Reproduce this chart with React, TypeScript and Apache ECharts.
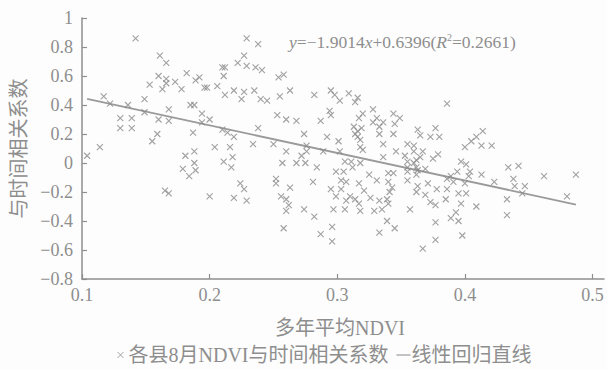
import React, { useEffect, useRef } from "react";
import * as echarts from "echarts";

// 多年平均NDVI (x) for each county
const ndvi = [
  0.142, 0.161, 0.166, 0.160, 0.166, 0.153, 0.163, 0.166, 0.173, 0.178,
  0.182, 0.189, 0.192, 0.196, 0.198, 0.206, 0.210, 0.212, 0.211, 0.222,
  0.227, 0.229, 0.229, 0.212, 0.219, 0.225, 0.227, 0.117, 0.122, 0.136,
  0.149, 0.149, 0.168, 0.185, 0.188, 0.194, 0.130, 0.139, 0.130, 0.139,
  0.160, 0.168, 0.194, 0.200, 0.159, 0.155, 0.187, 0.210, 0.214, 0.219,
  0.216, 0.204, 0.114, 0.104, 0.181, 0.188, 0.188, 0.179, 0.189, 0.184,
  0.211, 0.218, 0.217, 0.165, 0.168, 0.200, 0.219, 0.224, 0.227, 0.229,
  0.238, 0.236, 0.241, 0.254, 0.258, 0.235, 0.240, 0.245, 0.255, 0.263,
  0.282, 0.295, 0.298, 0.302, 0.309, 0.316, 0.314, 0.253, 0.260, 0.268,
  0.287, 0.294, 0.295, 0.320, 0.328, 0.331, 0.328, 0.336, 0.344, 0.349,
  0.345, 0.313, 0.316, 0.319, 0.317, 0.333, 0.238, 0.274, 0.292, 0.301,
  0.314, 0.316, 0.333, 0.344, 0.234, 0.250, 0.276, 0.318, 0.336, 0.355,
  0.360, 0.318, 0.276, 0.272, 0.260, 0.289, 0.302, 0.320, 0.336, 0.346,
  0.353, 0.360, 0.362, 0.257, 0.268, 0.275, 0.284, 0.306, 0.311, 0.312,
  0.318, 0.299, 0.305, 0.325, 0.331, 0.340, 0.344, 0.355, 0.363, 0.355,
  0.252, 0.252, 0.263, 0.281, 0.303, 0.307, 0.317, 0.340, 0.343, 0.295,
  0.303, 0.321, 0.341, 0.362, 0.256, 0.260, 0.262, 0.260, 0.274, 0.299,
  0.310, 0.307, 0.314, 0.317, 0.326, 0.333, 0.339, 0.340, 0.297, 0.306,
  0.318, 0.329, 0.335, 0.357, 0.282, 0.339, 0.345, 0.333, 0.258, 0.287,
  0.296, 0.296, 0.386, 0.363, 0.365, 0.373, 0.377, 0.380, 0.400, 0.405,
  0.409, 0.414, 0.413, 0.421, 0.367, 0.365, 0.379, 0.375, 0.397, 0.401,
  0.355, 0.360, 0.355, 0.362, 0.369, 0.394, 0.404, 0.403, 0.413, 0.362,
  0.389, 0.386, 0.391, 0.400, 0.434, 0.442, 0.423, 0.438, 0.462, 0.487,
  0.439, 0.447, 0.445, 0.433, 0.480, 0.363, 0.371, 0.378, 0.386, 0.395,
  0.401, 0.369, 0.385, 0.373, 0.377, 0.397, 0.409, 0.377, 0.389, 0.393,
  0.395, 0.377, 0.367, 0.398, 0.433
];

// 与时间相关系数 (y) for each county
const corr = [
  0.86, 0.74, 0.69, 0.60, 0.58, 0.54, 0.51, 0.55, 0.56, 0.51,
  0.62, 0.57, 0.59, 0.52, 0.52, 0.53, 0.66, 0.66, 0.60, 0.69,
  0.74, 0.86, 0.67, 0.47, 0.50, 0.44, 0.49, 0.46, 0.41, 0.40,
  0.44, 0.35, 0.37, 0.40, 0.40, 0.34, 0.31, 0.31, 0.24, 0.24,
  0.30, 0.29, 0.28, 0.30, 0.20, 0.15, 0.21, 0.23, 0.21, 0.18,
  0.11, 0.11, 0.11, 0.05, 0.05, 0.08, 0.00, -0.04, -0.05, -0.09,
  0.01, 0.04, -0.03, -0.19, -0.21, -0.23, -0.24, -0.14, -0.18, -0.26,
  0.82, 0.66, 0.64, 0.59, 0.61, 0.50, 0.44, 0.43, 0.46, 0.50,
  0.47, 0.50, 0.47, 0.43, 0.48, 0.45, 0.42, 0.33, 0.30, 0.29,
  0.29, 0.36, 0.33, 0.34, 0.37, 0.31, 0.28, 0.28, 0.34, 0.31,
  0.27, 0.25, 0.22, 0.24, 0.31, 0.25, 0.24, 0.20, 0.18, 0.15,
  0.20, 0.18, 0.20, 0.20, 0.13, 0.13, 0.12, 0.11, 0.13, 0.13,
  0.12, 0.16, 0.08, 0.05, 0.08, 0.08, 0.08, 0.09, 0.04, 0.08,
  0.05, 0.08, 0.02, 0.00, 0.00, 0.00, -0.03, 0.01, 0.01, -0.03,
  0.00, -0.06, -0.06, -0.08, -0.12, -0.07, -0.07, -0.06, -0.05, -0.12,
  -0.11, -0.14, -0.17, -0.13, -0.12, -0.13, -0.14, -0.13, -0.17, -0.18,
  -0.18, -0.19, -0.20, -0.20, -0.23, -0.25, -0.29, -0.33, -0.32, -0.23,
  -0.23, -0.26, -0.25, -0.28, -0.24, -0.26, -0.25, -0.28, -0.32, -0.32,
  -0.33, -0.33, -0.32, -0.32, -0.37, -0.40, -0.45, -0.48, -0.45, -0.49,
  -0.44, -0.54, 0.41, 0.23, 0.19, 0.18, 0.24, 0.18, 0.11, 0.15,
  0.18, 0.22, 0.12, 0.12, 0.08, 0.04, 0.06, 0.03, 0.01, -0.01,
  0.01, 0.00, -0.03, -0.03, -0.04, -0.06, -0.06, -0.09, -0.08, -0.08,
  -0.09, -0.11, -0.13, -0.14, -0.03, -0.02, -0.13, -0.11, -0.09, -0.08,
  -0.16, -0.16, -0.21, -0.25, -0.23, -0.16, -0.14, -0.18, -0.18, -0.21,
  -0.21, -0.22, -0.25, -0.27, -0.29, -0.28, -0.30, -0.41, -0.38, -0.34,
  -0.40, -0.53, -0.59, -0.50, -0.36
];

// regression: y = -1.9014x + 0.6396 (R^2 = 0.2661)
const slope = -1.9014;
const intercept = 0.6396;
const lineEnds = [0.104, 0.487];

const xTicks = [0.1, 0.2, 0.3, 0.4, 0.5];

const scatterName = "各县8月NDVI与时间相关系数";
const lineName = "线性回归直线";
const xName = "多年平均NDVI";
const yName = "与时间相关系数";

const GRAY = "#8e8e8e";
const FONT = "Liberation Serif, Times New Roman, DejaVu Serif, Noto Sans CJK SC, serif";
const CROSS = "path://M0,0L10,10M10,0L0,10";

export default function App() {
  const ref = useRef<HTMLDivElement>(null);
  useEffect(() => {
    if (!ref.current) return;
    const chart = echarts.init(ref.current, undefined, { renderer: "svg" });
    const fmtY = (v: number) => String(+v.toFixed(1)).replace("-", "−");
    chart.setOption({
      animation: false,
      backgroundColor: "#fdfdfd",
      textStyle: { fontFamily: FONT },
      grid: { left: 82, right: 3, top: 18, bottom: 90, containLabel: false },
      xAxis: {
        type: "value",
        min: 0.1,
        max: 0.509,
        name: xName,
        nameLocation: "middle",
        nameGap: 39,
        nameTextStyle: { color: GRAY, fontSize: 20, fontFamily: FONT, padding: [0, 0, 0, -6] },
        axisLine: { onZero: false, lineStyle: { color: GRAY, width: 1.5 } },
        axisTick: { inside: true, length: 5, customValues: xTicks, lineStyle: { color: GRAY, width: 1.2 } },
        axisLabel: {
          color: GRAY,
          fontSize: 18,
          margin: 7,
          fontFamily: FONT,
          customValues: xTicks,
          formatter: (v: number) => v.toFixed(1),
        },
        splitLine: { show: false },
      },
      yAxis: {
        type: "value",
        min: -0.8,
        max: 1,
        interval: 0.2,
        name: yName,
        nameLocation: "middle",
        nameGap: 51,
        nameTextStyle: { color: GRAY, fontSize: 20, fontFamily: FONT },
        axisLine: { show: true, onZero: false, lineStyle: { color: GRAY, width: 1.5 } },
        axisTick: { show: true, inside: true, length: 5, lineStyle: { color: GRAY, width: 1.2 } },
        axisLabel: { color: GRAY, fontSize: 18, margin: 9, fontFamily: FONT, formatter: fmtY },
        splitLine: { show: false },
      },
      legend: {
        top: 340,
        left: 112,
        itemGap: 8,
        itemWidth: 14,
        itemHeight: 6,
        textStyle: { color: GRAY, fontSize: 20, fontFamily: FONT, padding: [0, 0, 0, -4] },
        data: [
          { name: scatterName, icon: CROSS, itemStyle: { color: "transparent", borderColor: GRAY, borderWidth: 1 } },
          { name: lineName, icon: "path://M0,0H20V1.5H0Z", itemStyle: { color: GRAY } },
        ],
      },
      graphic: [
        {
          type: "text",
          left: 289,
          top: 32,
          style: {
            text: "{i|y}=−1.9014{i|x}+0.6396({i|R}{s|2}=0.2661)",
            fill: GRAY,
            fontSize: 17.5,
            fontFamily: FONT,
            rich: {
              i: { fontStyle: "italic", fontSize: 17.5, fontFamily: FONT, fill: GRAY },
              s: { fontSize: 10, fontFamily: FONT, fill: GRAY, verticalAlign: "top", lineHeight: 20 },
            },
          },
        },
      ],
      series: [
        {
          name: scatterName,
          type: "scatter",
          symbol: CROSS,
          symbolSize: 6,
          itemStyle: { color: "transparent", borderColor: "#8a8a8a", borderWidth: 1.1 },
          data: ndvi.map((x, i) => [x, corr[i]]),
          z: 3,
        },
        {
          name: lineName,
          type: "line",
          symbol: "none",
          lineStyle: { color: "#9a9a9a", width: 1.8 },
          itemStyle: { color: GRAY },
          data: lineEnds.map((x) => [x, intercept + slope * x]),
          z: 2,
        },
      ],
    });
    return () => chart.dispose();
  }, []);
  return <div ref={ref} style={{ position: "absolute", left: 0, top: 0, width: 607, height: 369 }} />;
}
